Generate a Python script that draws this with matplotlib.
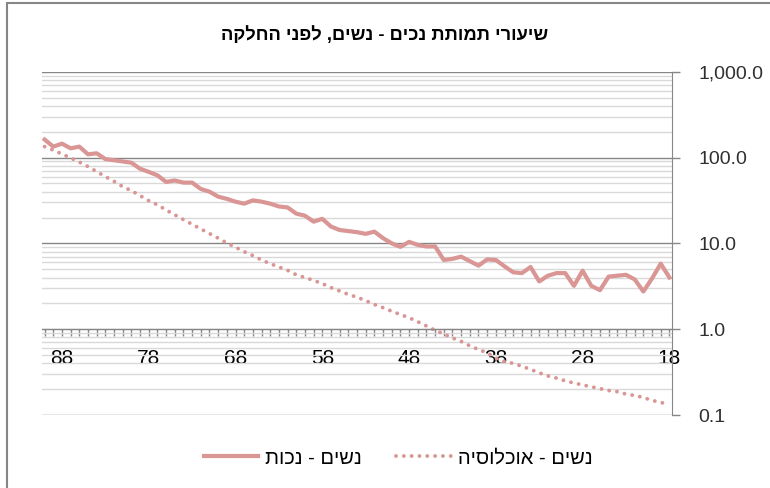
import numpy as np
import matplotlib
matplotlib.use("Agg")
import matplotlib.pyplot as plt
from matplotlib.ticker import FixedLocator, FuncFormatter, LogLocator, NullFormatter
from matplotlib.patches import Rectangle

plt.rcParams['font.family'] = ['Liberation Sans', 'DejaVu Sans']

# data (ages shown from 90 down to 18)
ages = list(range(90, 17, -1))
disabled_women = [162, 134, 145, 128, 134, 109, 112, 96, 93, 90,
                  87, 74, 68, 62, 52, 54, 51, 51, 43, 40,
                  35, 33, 30.6, 29, 31.7, 30.6, 29, 26.9, 26.2, 22.2,
                  21, 17.9, 19.3, 15.7, 14.3, 13.9, 13.5, 12.9, 13.7, 11.5,
                  10.0, 9.1, 10.4, 9.6, 9.2, 9.2, 6.4, 6.6, 7.0, 6.2,
                  5.5, 6.5, 6.4, 5.4, 4.6, 4.5, 5.3, 3.6, 4.2, 4.5,
                  4.5, 3.2, 4.8, 3.2, 2.85, 4.1, 4.2, 4.3, 3.8, 2.75,
                  3.9, 5.8, 4.0]
population_women = [134, 122, 110, 99, 88.5, 78.5, 68.6, 59.9, 52.8, 45.8,
                    41.1, 36.0, 31.4, 28.1, 24.5, 21.5, 18.9, 16.7, 14.7, 13.0,
                    11.5, 10.1, 9.0, 8.0, 7.2, 6.4, 5.8, 5.3, 4.85, 4.3,
                    4.0, 3.7, 3.4, 3.05, 2.79, 2.54, 2.36, 2.15, 1.94, 1.78,
                    1.62, 1.48, 1.36, 1.22, 1.09, 0.97, 0.88, 0.79, 0.72, 0.64,
                    0.58, 0.53, 0.46, 0.42, 0.40, 0.37, 0.34, 0.31, 0.285, 0.269,
                    0.250, 0.236, 0.224, 0.213, 0.203, 0.193, 0.187, 0.175, 0.169, 0.160,
                    0.148, 0.140, 0.133]
x_labels = [88, 78, 68, 58, 48, 38, 28, 18]

title_he = "שיעורי תמותת נכים - נשים, לפני החלקה"
label_disabled = "נשים - נכות"
label_population = "נשים - אוכלוסיה"


def rtl(s):
    # matplotlib has no bidi support, so flip hebrew to visual order
    return s[::-1]


color = '#d99694'

fig = plt.figure(figsize=(7.7, 4.88), dpi=100)
ax = fig.add_axes([42 / 770, 1 - 415 / 488, (672 - 42) / 770, (415 - 71.7) / 488])

l1, = ax.plot(ages, disabled_women, color=color, lw=3.0, solid_joinstyle='round')
l2, = ax.plot(ages, population_women, color=color, lw=2.8,
              linestyle=(0, (0.01, 2.0)), dash_capstyle='round')

ax.set_yscale('log')
ax.set_ylim(0.1, 1000)
ax.set_xlim(90.3, 17.7)

# y axis on the right
ax.yaxis.tick_right()
ax.yaxis.set_major_locator(FixedLocator([0.1, 1, 10, 100, 1000]))
ax.yaxis.set_major_formatter(FuncFormatter(lambda v, p: '{:,.1f}'.format(v)))
ax.yaxis.set_minor_locator(LogLocator(base=10, subs=np.arange(2, 10)))
ax.yaxis.set_minor_formatter(NullFormatter())
ax.tick_params(axis='y', which='major', direction='out', length=6, width=1,
               color='#868686', pad=13, labelsize=14, labelcolor='#303030')
ax.tick_params(axis='y', which='minor', length=0)
ax.grid(which='major', axis='y', color='#868686', lw=1.0)
ax.grid(which='minor', axis='y', color='#d9d9d9', lw=1.0)
ax.set_axisbelow(True)

# x axis crosses at 1.0
ax.spines['bottom'].set_position(('data', 1))
ax.spines['bottom'].set_color('#868686')
ax.spines['right'].set_color('#868686')
ax.spines['top'].set_visible(False)
ax.spines['left'].set_visible(False)
ax.xaxis.set_major_locator(FixedLocator(ages))
ax.xaxis.set_major_formatter(FuncFormatter(lambda v, p: str(int(round(v))) if int(round(v)) in x_labels else ''))
ax.tick_params(axis='x', direction='out', length=5, width=1, color='#868686',
               pad=9, labelsize=15, labelcolor='#000000')

fig.text(0.5, 1 - 35 / 488, rtl(title_he), ha='center', va='center',
         fontsize=13.2, fontweight='bold')

fig.legend([l1, l2], [rtl(label_disabled), rtl(label_population)],
           loc='center', bbox_to_anchor=(398 / 770, 1 - 458 / 488), ncol=2,
           frameon=False, fontsize=14.5, handlelength=2.7, handletextpad=0.35,
           columnspacing=1.7)

fig.patches.append(Rectangle((7 / 770, -0.1), 1.2, 1 - 3 / 488 + 0.1,
                             transform=fig.transFigure, fill=False,
                             edgecolor='#868686', lw=1.5))

fig.savefig('out.png', dpi=100)
